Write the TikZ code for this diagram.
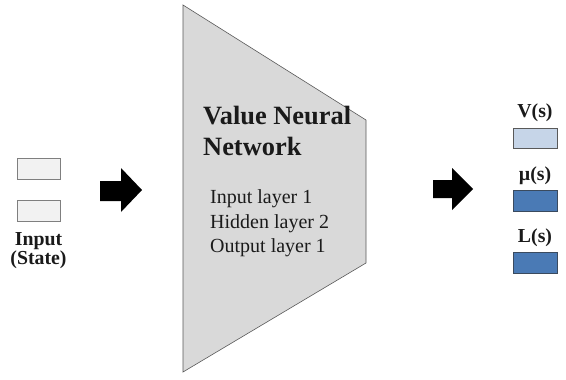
\documentclass[tikz,border=0pt]{standalone}
\usepackage{fontspec}
\setmainfont{Liberation Serif}
\definecolor{inbox}{HTML}{F2F2F2}
\definecolor{inedge}{HTML}{7F7F7F}
\definecolor{trapfill}{HTML}{D9D9D9}
\definecolor{trapedge}{HTML}{595959}
\definecolor{vfill}{HTML}{C6D5E8}
\definecolor{mfill}{HTML}{4A7AB5}
\definecolor{medge}{HTML}{3A4A5E}
\definecolor{txt}{HTML}{1A1A1A}
\tikzset{
  inbx/.style={draw=inedge,fill=inbox,line width=0.9pt},
  outbx/.style={draw=medge,line width=0.9pt},
  lbl/.style={inner sep=0pt,anchor=base,text=txt,font=\bfseries\fontsize{19.8}{19.8}\selectfont},
  title/.style={inner sep=0pt,anchor=base west,text=txt,font=\bfseries\fontsize{26.4}{26.4}\selectfont},
  layer/.style={inner sep=0pt,anchor=base west,text=txt,font=\fontsize{20}{20}\selectfont},
  blockarrow/.style={fill=black}
}
\begin{document}
\begin{tikzpicture}[x=1pt,y=-1pt]
\useasboundingbox (0,0) rectangle (566,380);
% input boxes
\draw[inbx] (17,158) rectangle (60,179);
\draw[inbx] (17,200) rectangle (60,221);
\node[lbl] (inl1) at (38.5,245) {Input};
\node[lbl] (inl2) at (38.5,264) {(State)};
% left arrow
\fill[blockarrow] (100,181) -- (121,181) -- (121,168) -- (142,190) -- (121,212) -- (121,201) -- (100,201) -- cycle;
% trapezoid
\draw[fill=trapfill,draw=trapedge,line width=0.6pt] (183,5) -- (366,120) -- (366,263) -- (183,372) -- cycle;
\node[title] (t1) at (203,124) {Value Neural};
\node[title] (t2) at (203,155) {Network};
\node[layer] (l1) at (210,203) {Input layer 1};
\node[layer] (l2) at (210,228) {Hidden layer 2};
\node[layer] (l3) at (210,252) {Output layer 1};
% right arrow
\fill[blockarrow] (433,180) -- (452,180) -- (452,168) -- (473,189) -- (452,210) -- (452,198) -- (433,198) -- cycle;
% outputs
\node[lbl] (vl) at (535,117) {V(s)};
\draw[outbx,draw=trapedge,fill=vfill] (513,128) rectangle (557,148);
\node[lbl] (ml) at (535,180) {µ(s)};
\draw[outbx,fill=mfill] (513,190) rectangle (557,211);
\node[lbl] (ll) at (535,242) {L(s)};
\draw[outbx,fill=mfill] (513,252) rectangle (557,273);
\end{tikzpicture}
\end{document}
